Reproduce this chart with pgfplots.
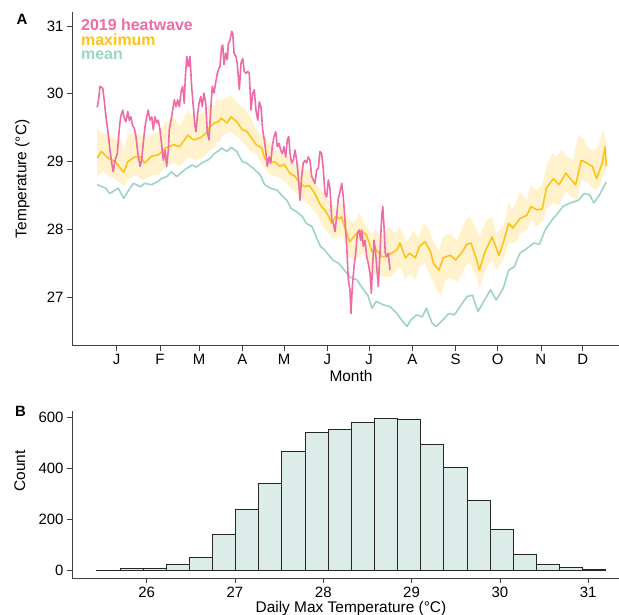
\documentclass[border=0pt]{standalone}
\usepackage{fontspec}
\setmainfont{Liberation Sans}
\usepackage{pgfplots}
\usepackage{pgfplotstable}
\pgfplotsset{compat=1.18}
\usepgfplotslibrary{fillbetween}

\definecolor{hw}{HTML}{EE6BA7}
\definecolor{mx}{HTML}{FFC21A}
\definecolor{mn}{HTML}{9DD4C5}
\definecolor{band}{HTML}{FFF2CC}
\definecolor{histc}{HTML}{DCECE9}

% daily mean SST climatology
\pgfplotstableread{
d t
1 28.66
7 28.61
10 28.53
14 28.58
16 28.61
20 28.46
23 28.56
27 28.68
32 28.63
35 28.68
40 28.66
44 28.70
47 28.75
51 28.78
54 28.85
58 28.78
62 28.85
65 28.90
69 28.95
72 28.92
76 28.98
80 29.02
82 29.05
85 29.12
89 29.17
90 29.20
94 29.15
97 29.21
101 29.15
105 29.00
108 28.98
113 28.90
118 28.80
121 28.66
125 28.61
130 28.58
133 28.51
137 28.43
140 28.31
144 28.26
148 28.19
151 28.09
155 28.04
158 27.89
161 27.75
164 27.70
167 27.62
170 27.55
174 27.50
177 27.43
182 27.30
187 27.26
192 27.11
195 27.03
198 26.84
201 26.94
206 26.89
211 26.86
216 26.76
219 26.67
223 26.57
226 26.67
230 26.74
234 26.71
237 26.84
241 26.62
244 26.57
249 26.67
253 26.76
257 26.74
262 26.89
266 27.01
270 27.03
274 26.79
278 26.94
283 27.11
287 26.96
292 27.13
296 27.40
300 27.45
304 27.65
309 27.72
314 27.80
318 27.78
322 27.99
327 28.14
330 28.21
335 28.34
340 28.39
346 28.43
350 28.53
354 28.51
357 28.39
361 28.51
366 28.70
}\meantab

% daily maximum climatology
\pgfplotstableread{
d t
1 29.05
4 29.15
9 29.05
14 29.00
20 28.84
23 29.00
28 29.07
32 29.07
35 28.98
40 29.08
45 29.10
50 29.20
56 29.25
60 29.22
66 29.39
70 29.32
75 29.35
80 29.44
82 29.52
85 29.57
88 29.59
90 29.64
94 29.57
97 29.66
101 29.59
105 29.47
108 29.45
112 29.34
115 29.25
119 29.20
121 29.05
125 28.98
128 29.00
132 28.93
135 28.96
139 28.83
143 28.78
146 28.68
150 28.63
153 28.65
157 28.53
161 28.36
164 28.29
167 28.19
169 28.09
172 28.19
175 28.16
176 28.19
179 28.00
182 27.82
186 27.92
189 27.99
194 27.92
198 27.67
201 27.70
205 27.60
208 27.60
212 27.65
216 27.70
218 27.80
222 27.58
225 27.65
229 27.58
232 27.75
236 27.82
240 27.67
242 27.50
246 27.40
249 27.58
254 27.62
258 27.55
262 27.65
266 27.78
269 27.80
273 27.55
275 27.40
279 27.67
284 27.89
289 27.62
292 27.80
296 28.09
299 28.02
304 28.16
309 28.21
312 28.34
316 28.29
320 28.30
323 28.61
328 28.75
332 28.66
337 28.83
340 28.75
344 28.66
348 29.02
352 28.98
356 28.93
359 28.75
363 28.98
365 29.22
366 28.93
}\maxtab

\pgfplotstableread{
d t
1 29.49
4 29.42
9 29.40
14 29.32
17 29.39
20 29.17
23 29.39
28 29.44
34 29.37
40 29.39
45 29.44
51 29.59
56 29.66
60 29.52
66 29.76
70 29.66
76 29.71
81 29.84
85 29.81
87 29.93
89 29.91
91 29.91
97 29.98
101 29.88
106 29.79
111 29.66
114 29.52
118 29.39
121 29.37
125 29.27
130 29.17
134 29.12
139 29.07
144 28.98
149 28.88
154 28.88
158 28.68
163 28.53
168 28.40
173 28.28
176 28.43
180 28.19
185 28.09
189 28.24
193 28.09
197 27.94
201 27.99
205 27.89
210 28.04
214 27.94
218 28.04
223 27.82
228 27.99
231 27.87
235 28.09
238 28.04
242 27.82
246 27.70
249 27.89
254 27.94
259 27.84
262 27.99
265 28.14
268 28.19
273 27.99
275 27.89
280 28.14
284 28.19
287 27.94
292 28.05
296 28.39
299 28.29
304 28.56
309 28.43
312 28.66
316 28.58
320 28.66
323 28.93
327 29.12
330 29.07
334 29.17
338 29.07
342 29.02
346 29.39
350 29.32
353 29.20
357 29.17
360 29.22
364 29.47
366 29.22
}\uptab

\pgfplotstableread{
d t
1 28.78
5 28.85
10 28.78
15 28.73
20 28.63
23 28.73
28 28.80
34 28.73
40 28.80
45 28.80
50 28.93
56 28.98
60 28.93
66 29.07
71 29.02
76 29.05
81 29.15
85 29.20
87 29.30
89 29.30
91 29.39
97 29.44
101 29.37
106 29.27
111 29.15
115 29.10
120 28.93
125 28.80
130 28.78
134 28.73
139 28.63
144 28.53
149 28.43
154 28.34
158 28.24
163 28.04
167 27.94
170 27.87
173 27.88
177 27.90
181 27.60
186 27.55
191 27.65
195 27.55
198 27.30
201 27.35
206 27.30
211 27.30
214 27.35
218 27.45
222 27.26
225 27.35
229 27.26
232 27.45
236 27.50
240 27.30
244 27.11
247 27.03
251 27.26
254 27.28
259 27.23
262 27.33
265 27.45
268 27.50
273 27.30
275 27.11
279 27.40
284 27.55
287 27.40
292 27.55
296 27.80
301 27.80
304 27.94
309 27.99
312 28.14
316 28.04
321 28.14
323 28.29
328 28.39
332 28.36
337 28.56
341 28.48
345 28.43
348 28.73
353 28.68
357 28.58
361 28.63
366 28.93
}\lotab

% 2019 heatwave daily max
\pgfplotstableread{
d t
1 29.80
2 29.91
3 30.11
5 30.08
6 29.91
7.3 29.66
9 29.39
10.2 29.17
11.4 28.98
12.5 28.85
13.8 29.02
15.4 29.12
16.8 29.47
17.8 29.66
19.3 29.76
20.4 29.64
21.6 29.59
22.9 29.74
24 29.61
25.2 29.66
26.2 29.54
27.6 29.49
28.8 29.37
30 29.15
31 29.02
31.7 28.93
32.9 29.02
34 29.27
35.3 29.52
36.5 29.66
37.6 29.76
38.8 29.61
40.1 29.66
41.2 29.47
42.4 29.66
43.7 29.57
44.8 29.61
46 29.47
47.2 29.25
48.4 29.02
49.6 29.17
50.8 28.93
52 29.17
52.7 29.47
53.9 29.61
55.1 29.76
56.3 29.91
57.5 29.81
58.7 29.91
59.9 29.81
61.1 30.03
62.3 30.11
63.4 29.86
64.2 30.25
65.2 30.55
66.3 30.40
67.5 30.55
68.7 30.11
69.9 29.81
71.1 29.52
71.8 29.44
72.8 29.66
74 29.86
75.2 29.96
76.3 29.81
77.5 30.01
78.8 29.86
79.9 29.44
81.1 29.32
82.4 29.76
83.5 30.11
84.7 30.01
85.9 30.16
87.1 30.30
88.3 30.38
89 30.40
90.2 30.69
91 30.72
91.9 30.43
93.1 30.60
94.3 30.50
95 30.74
96.2 30.79
97.4 30.92
98.1 30.90
99.1 30.60
100.5 30.55
101.4 30.45
102.9 30.06
104.1 30.45
105.3 30.52
106.4 30.33
107.7 30.30
108.9 30.33
110 30.30
111.3 29.76
112.5 30.01
113.6 30.06
114.8 29.76
116.1 29.61
117.2 29.88
118.4 29.81
119.6 29.47
120.8 29.32
122 29.12
122.9 28.93
124.2 29.07
125.4 28.98
126.5 29.22
127.7 29.37
129 29.44
130.1 29.22
131.3 29.27
132.5 29.17
133.7 29.12
134.9 29.22
136.1 29.07
137.3 29.32
138.3 29.37
139.2 29.12
140.4 28.98
141.6 29.02
142.8 29.17
144 29.02
145.2 28.78
146.4 28.43
147.6 28.78
148.7 28.98
150 29.02
151.2 28.98
152.3 29.07
153.5 29.02
154.8 28.78
155.9 28.73
157.1 28.68
158.3 28.88
159.5 28.90
160.7 29.15
161.9 29.12
163.1 28.88
164.3 28.53
165.5 28.48
166.7 28.73
167.9 28.60
169.1 28.15
170.3 28.09
171.5 27.97
172.7 28.20
173.8 28.45
175.1 28.56
176.3 28.68
177.4 28.48
178.6 28.14
179.9 27.75
181 27.26
182.2 27.11
182.9 26.76
183.9 27.16
185.1 27.45
186.3 27.65
187.5 27.94
188.7 27.99
189.9 27.84
190.6 27.99
191.8 27.75
193 27.84
194.2 27.60
195.3 27.50
196.6 27.35
197.5 27.06
198.5 27.50
199.4 27.84
200.4 27.70
201.4 27.45
202.5 27.16
203.7 27.65
204.9 28.19
205.7 28.34
206.6 28.04
207.5 27.65
208.5 27.60
209.7 27.65
210.9 27.40
}\heatwave

% histogram: left bin edge, count (last row closes the final bin)
\pgfplotstableread{
x n
25.434 1
25.696 8
25.958 9
26.220 25
26.482 52
26.744 142
27.006 241
27.268 344
27.530 469
27.792 541
28.054 555
28.316 580
28.578 596
28.840 592
29.102 497
29.364 405
29.626 275
29.888 164
30.150 66
30.412 25
30.674 13
30.936 4
31.198 0
}\histtab

\pgfplotsset{
  ggclassic/.style={
    scale only axis,
    axis x line*=bottom, axis y line*=left,
    axis line style={black!75, line width=0.6bp},
    tick style={black!75, line width=0.6bp},
    tick align=outside, major tick length=5bp,
    ticklabel style={font=\fontsize{15}{15}\selectfont, text=black},
    /pgf/number format/assume math mode=true,
    label style={font=\fontsize{15.5}{15.5}\selectfont},
    minor tick num=0,
    clip=false,
  },
}
\tikzset{keytext/.style={anchor=base west, inner sep=0, font=\bfseries\fontsize{16}{16}\selectfont}}

\begin{document}
\begin{tikzpicture}

\begin{axis}[ggclassic,
  at={(72bp,-345.7bp)}, anchor=south west,
  width=547bp, height=333.7bp,
  xmin=-17.06, xmax=375.05, ymin=26.286, ymax=31.206,
  xtick={15,46,74,105,135,166,196,227,258,288,319,349},
  xticklabels={J,F,M,A,M,J,J,A,S,O,N,D},
  ytick={27,28,29,30,31},
  xlabel={Month},
  xlabel style={at={(axis description cs:0.51,-0.1058)}, anchor=base},
  ylabel={Temperature (°C)},
  ylabel style={at={(axis description cs:-0.0832,0.5)}, anchor=base},
]
\addplot[draw=none, name path=up] table[x=d,y=t] {\uptab};
\addplot[draw=none, name path=lo] table[x=d,y=t] {\lotab};
\addplot[band, draw=none] fill between[of=up and lo];
\addplot[mn, line width=1.6bp, line join=round] table[x=d,y=t] {\meantab};
\addplot[mx, line width=1.6bp, line join=round] table[x=d,y=t] {\maxtab};
\addplot[hw, line width=1.6bp, line join=round] table[x=d,y=t] {\heatwave};
\node[keytext, text=hw] at (axis cs:-10.6,30.926) {2019 heatwave};
\node[keytext, text=mx] at (axis cs:-10.6,30.713) {maximum};
\node[keytext, text=mn] at (axis cs:-10.6,30.499) {mean};
\end{axis}

\begin{axis}[ggclassic,
  at={(72bp,-578.3bp)}, anchor=south west,
  width=547bp, height=167.3bp,
  xmin=25.154, xmax=31.35, ymin=-29.8, ymax=625.8,
  xtick={26,27,28,29,30,31},
  ytick={0,200,400,600},
  xlabel={Daily Max Temperature (°C)},
  xlabel style={at={(axis description cs:0.51,-0.2014)}, anchor=base},
  ylabel={Count},
  ylabel style={at={(axis description cs:-0.0859,0.641)}, anchor=base},
]
\addplot[ybar interval, fill=histc, draw=black!85, line width=0.6bp] table[x=x,y=n] {\histtab};
\end{axis}

\node[anchor=base west, inner sep=0, font=\bfseries\fontsize{15}{15}\selectfont] at (16.5bp,-24bp) {A};
\node[anchor=base west, inner sep=0, font=\bfseries\fontsize{15}{15}\selectfont] at (15bp,-416bp) {B};

\pgfresetboundingbox
\path[use as bounding box] (0,0) rectangle (619bp,-615bp);
\end{tikzpicture}
\end{document}
